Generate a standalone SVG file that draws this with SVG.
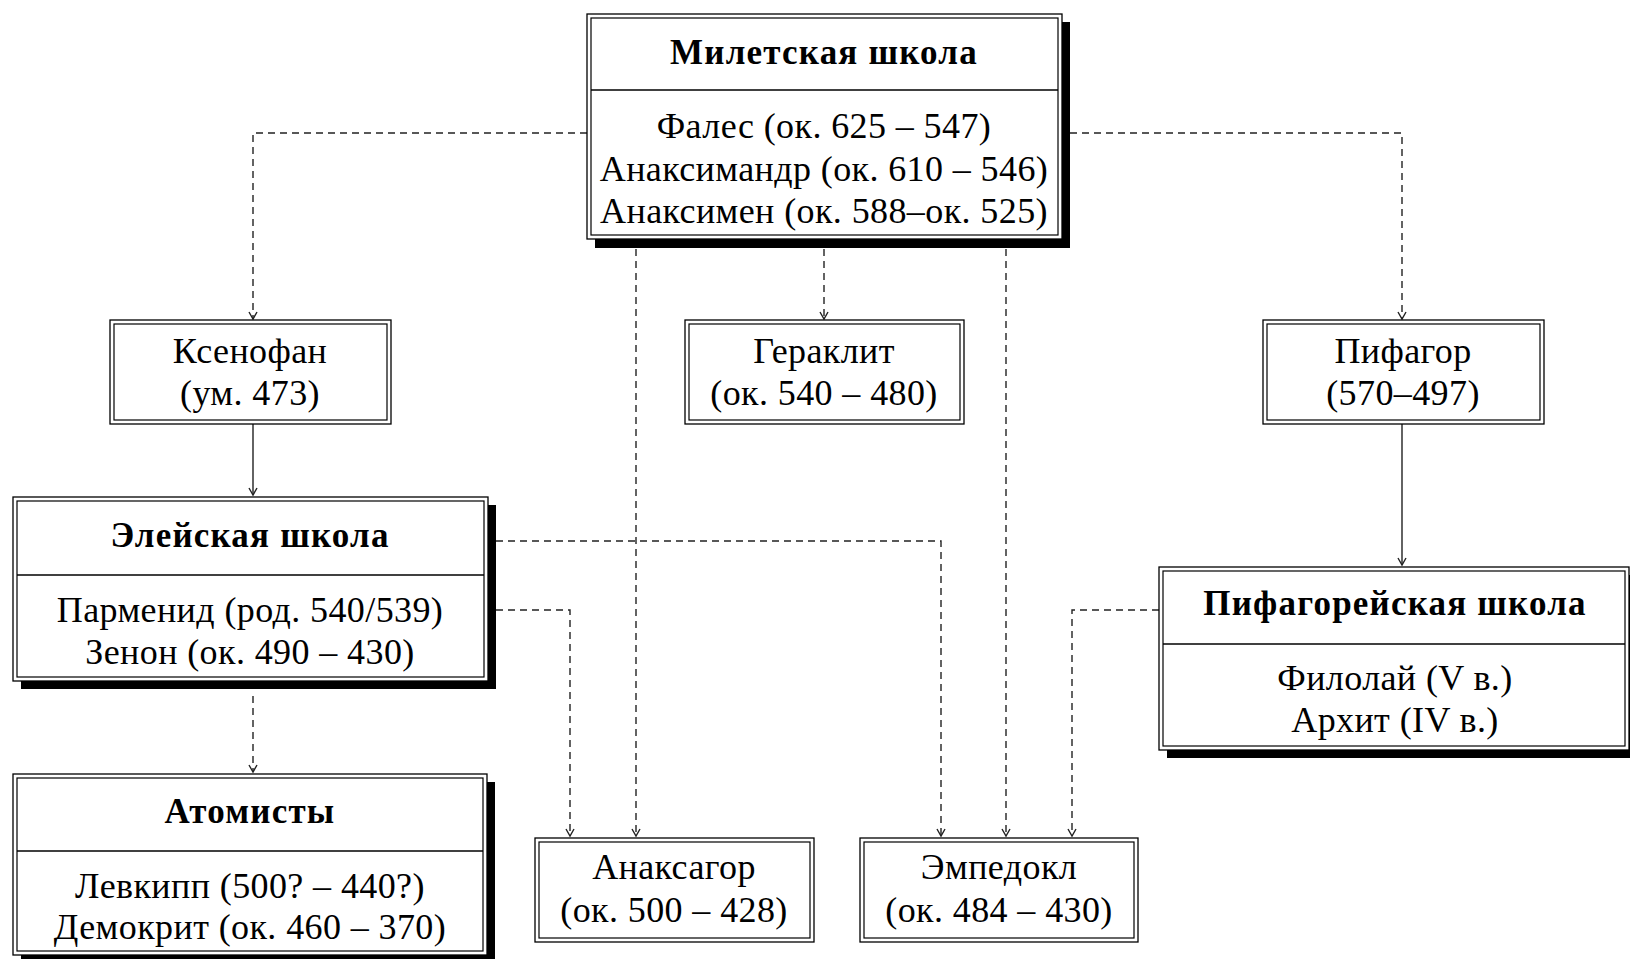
<svg xmlns="http://www.w3.org/2000/svg" width="1630" height="959" viewBox="0 0 1630 959">
<style>
.o{fill:#fff;stroke:#000;stroke-width:1.3}
.i{fill:none;stroke:#000;stroke-width:1.2}
.sh{fill:#000}
.dv{stroke:#000;stroke-width:1.3}
text{font-family:"Liberation Serif","Times New Roman",serif;font-size:36px;letter-spacing:0.4px;fill:#000;text-anchor:middle}
.t{font-weight:bold;font-size:35px;letter-spacing:1.2px}
.d{fill:none;stroke:#222;stroke-width:1.4;stroke-dasharray:7 5}
.s{fill:none;stroke:#222;stroke-width:1.4}
</style>
<defs>
<marker id="ah" markerUnits="userSpaceOnUse" markerWidth="12" markerHeight="12" viewBox="-8 -6 10 12" refX="0" refY="0" orient="auto">
<path d="M-7,-4 L0,0 L-7,4" fill="none" stroke="#222" stroke-width="1.4"/>
</marker>
</defs>
<rect width="1630" height="959" fill="#fff"/>
<g id="connectors">
<path class="d" d="M587,133 H253 V319" marker-end="url(#ah)"/>
<path class="d" d="M1070,133 H1402 V319" marker-end="url(#ah)"/>
<path class="d" d="M824,249 V319" marker-end="url(#ah)"/>
<path class="d" d="M636,249 V836" marker-end="url(#ah)"/>
<path class="d" d="M1006,249 V836" marker-end="url(#ah)"/>
<path class="s" d="M253,424 V495" marker-end="url(#ah)"/>
<path class="d" d="M253,696 V772" marker-end="url(#ah)"/>
<path class="d" d="M496,541 H941 V836" marker-end="url(#ah)"/>
<path class="d" d="M496,610 H570 V836" marker-end="url(#ah)"/>
<path class="s" d="M1402,424 V565" marker-end="url(#ah)"/>
<path class="d" d="M1159,610 H1072 V836" marker-end="url(#ah)"/>
</g>
<g id="miletus">
<rect class="sh" x="595" y="22" width="475" height="226"/>
<rect class="o" x="587" y="14" width="475" height="225"/>
<rect class="i" x="591" y="18" width="467" height="217"/>
<line class="dv" x1="591" y1="90" x2="1058" y2="90"/>
<text class="t" x="824" y="64">Милетская школа</text>
<text x="824" y="138">Фалес (ок. 625 – 547)</text>
<text x="824" y="181">Анаксимандр (ок. 610 – 546)</text>
<text x="824" y="223">Анаксимен (ок. 588–ок. 525)</text>
</g>
<g id="xenophanes">
<rect class="o" x="110" y="320" width="281" height="104"/>
<rect class="i" x="114" y="324" width="273" height="96"/>
<text x="250" y="363">Ксенофан</text>
<text x="250" y="405">(ум. 473)</text>
</g>
<g id="heraclitus">
<rect class="o" x="685" y="320" width="279" height="104"/>
<rect class="i" x="689" y="324" width="271" height="96"/>
<text x="824" y="363">Гераклит</text>
<text x="824" y="405">(ок. 540 – 480)</text>
</g>
<g id="pythagoras">
<rect class="o" x="1263" y="320" width="281" height="104"/>
<rect class="i" x="1267" y="324" width="273" height="96"/>
<text x="1403" y="363">Пифагор</text>
<text x="1403" y="405">(570–497)</text>
</g>
<g id="eleatic">
<rect class="sh" x="21" y="505" width="475" height="184"/>
<rect class="o" x="13" y="497" width="475" height="184"/>
<rect class="i" x="17" y="501" width="467" height="176"/>
<line class="dv" x1="17" y1="575" x2="484" y2="575"/>
<text class="t" x="250" y="547">Элейская школа</text>
<text x="250" y="622">Парменид (род. 540/539)</text>
<text x="250" y="664">Зенон (ок. 490 – 430)</text>
</g>
<g id="pythagorean">
<rect class="sh" x="1167" y="575" width="470" height="183"/>
<rect class="o" x="1159" y="567" width="470" height="183"/>
<rect class="i" x="1163" y="571" width="462" height="175"/>
<line class="dv" x1="1163" y1="644" x2="1625" y2="644"/>
<text class="t" x="1395" y="615">Пифагорейская школа</text>
<text x="1395" y="690">Филолай (V в.)</text>
<text x="1395" y="732">Архит (IV в.)</text>
</g>
<g id="atomists">
<rect class="sh" x="21" y="782" width="474" height="181"/>
<rect class="o" x="13" y="774" width="474" height="181"/>
<rect class="i" x="17" y="778" width="466" height="173"/>
<line class="dv" x1="17" y1="851" x2="483" y2="851"/>
<text class="t" x="250" y="823">Атомисты</text>
<text x="250" y="898">Левкипп (500? – 440?)</text>
<text x="250" y="939">Демокрит (ок. 460 – 370)</text>
</g>
<g id="anaxagoras">
<rect class="o" x="535" y="838" width="279" height="104"/>
<rect class="i" x="539" y="842" width="271" height="96"/>
<text x="674" y="879">Анаксагор</text>
<text x="674" y="922">(ок. 500 – 428)</text>
</g>
<g id="empedocles">
<rect class="o" x="860" y="838" width="278" height="104"/>
<rect class="i" x="864" y="842" width="270" height="96"/>
<text x="999" y="879">Эмпедокл</text>
<text x="999" y="922">(ок. 484 – 430)</text>
</g>
</svg>
